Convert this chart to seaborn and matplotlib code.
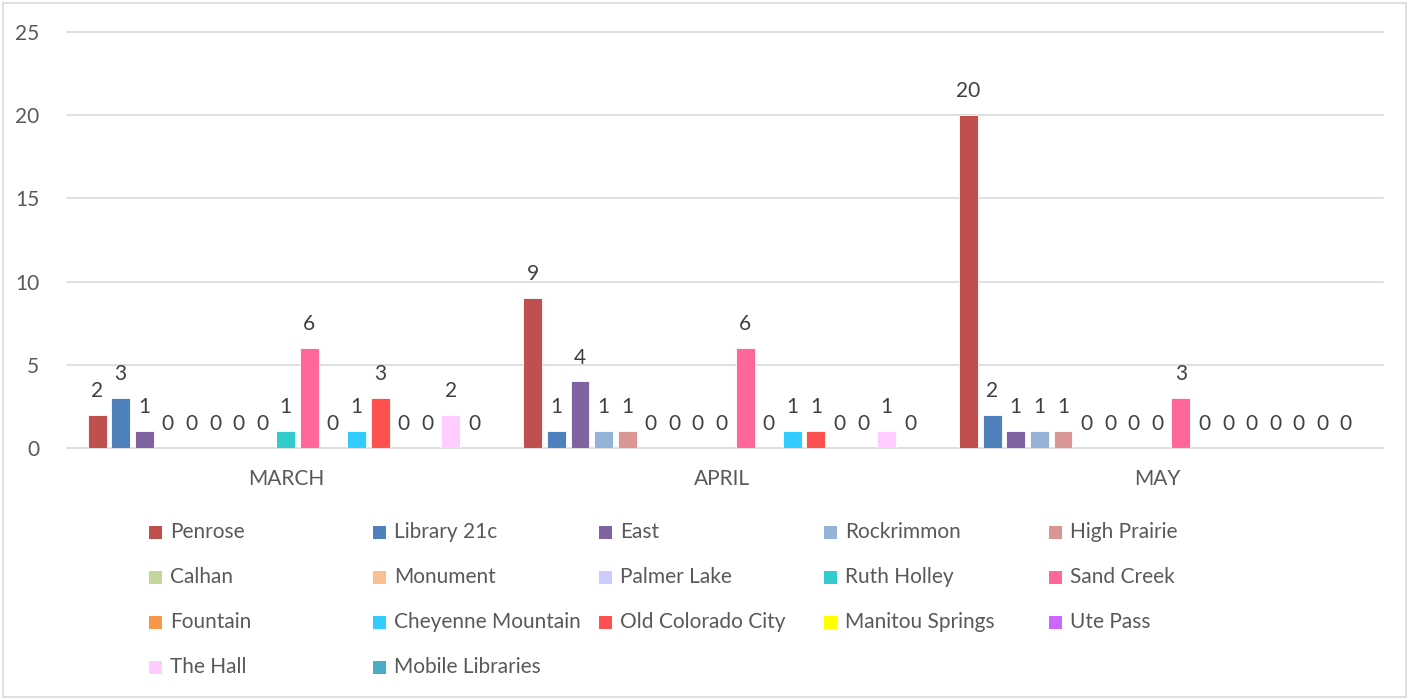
import numpy as np
import pandas as pd
import seaborn as sns
import matplotlib.pyplot as plt
from matplotlib.patches import Rectangle

# Monthly counts per library branch
months = ["MARCH", "APRIL", "MAY"]
libraries = [
    "Penrose", "Library 21c", "East", "Rockrimmon", "High Prairie",
    "Calhan", "Monument", "Palmer Lake", "Ruth Holley", "Sand Creek",
    "Fountain", "Cheyenne Mountain", "Old Colorado City", "Manitou Springs",
    "Ute Pass", "The Hall", "Mobile Libraries",
]
march = [2, 3, 1, 0, 0, 0, 0, 0, 1, 6, 0, 1, 3, 0, 0, 2, 0]
april = [9, 1, 4, 1, 1, 0, 0, 0, 0, 6, 0, 1, 1, 0, 0, 1, 0]
may = [20, 2, 1, 1, 1, 0, 0, 0, 0, 3, 0, 0, 0, 0, 0, 0, 0]
colors = [
    "#C0504D", "#4F81BD", "#8064A2", "#95B3D7", "#D99694",
    "#C3D69B", "#FAC090", "#CCCCFF", "#33CCCC", "#FF6699",
    "#F79646", "#33CCFF", "#FF5050", "#FFFF00", "#CC66FF",
    "#FFCCFF", "#4BACC6",
]

df = pd.DataFrame({
    "month": np.repeat(months, len(libraries)),
    "library": libraries * len(months),
    "count": march + april + may,
})

sns.set_theme(style="white")
plt.rcParams["font.family"] = ["Lato", "DejaVu Sans"]
FS = 15

W, H = 1409, 700
fig = plt.figure(figsize=(W / 100, H / 100), dpi=100)
ax = fig.add_axes([67 / W, 1 - 448 / H, (1383 - 67) / W, (448 - 32) / H])

palette = dict(zip(libraries, colors))
sns.barplot(
    data=df, x="month", y="count", hue="library",
    order=months, hue_order=libraries, palette=palette,
    width=0.92, gap=0.2, saturation=1, legend=False,
    edgecolor="white", linewidth=0.6, ax=ax,
)

ax.set_xlim(-0.502, 2.518)
ax.set_ylim(0, 25)
ax.set_yticks(range(0, 26, 5))
ax.yaxis.grid(True, color="#d9d9d9", linewidth=1.2, clip_on=False)
ax.set_axisbelow(True)
for spine in ax.spines.values():
    spine.set_visible(False)
ax.set_xlabel("")
ax.set_ylabel("")
ax.tick_params(axis="both", length=0, colors="#595959", labelsize=FS)
ax.tick_params(axis="y", pad=20)
ax.tick_params(axis="x", pad=15)

# Value labels above every bar
for container in ax.containers:
    ax.bar_label(container, fmt="%g", padding=10, color="#404040", fontsize=FS)

# Legend laid out in rows of five
text_x = [170, 394, 620, 845, 1070]
row_y = [532, 577, 622, 667]
for i, (name, col) in enumerate(zip(libraries, colors)):
    r, c = divmod(i, 5)
    tx = text_x[c]
    ty = row_y[r]
    fig.patches.append(Rectangle(
        ((tx - 21) / W, 1 - (ty + 7) / H), 13 / W, 13 / H,
        transform=fig.transFigure, facecolor=col, edgecolor="none"))
    fig.text(tx / W, 1 - ty / H, name, ha="left", va="center",
             fontsize=FS, color="#595959")

# Chart frame
fig.patches.append(Rectangle(
    (3 / W, 3 / H), (W - 6) / W, (H - 6) / H, transform=fig.transFigure,
    fill=False, edgecolor="#d9d9d9", linewidth=1.2))

fig.savefig("out.png", dpi=100)
